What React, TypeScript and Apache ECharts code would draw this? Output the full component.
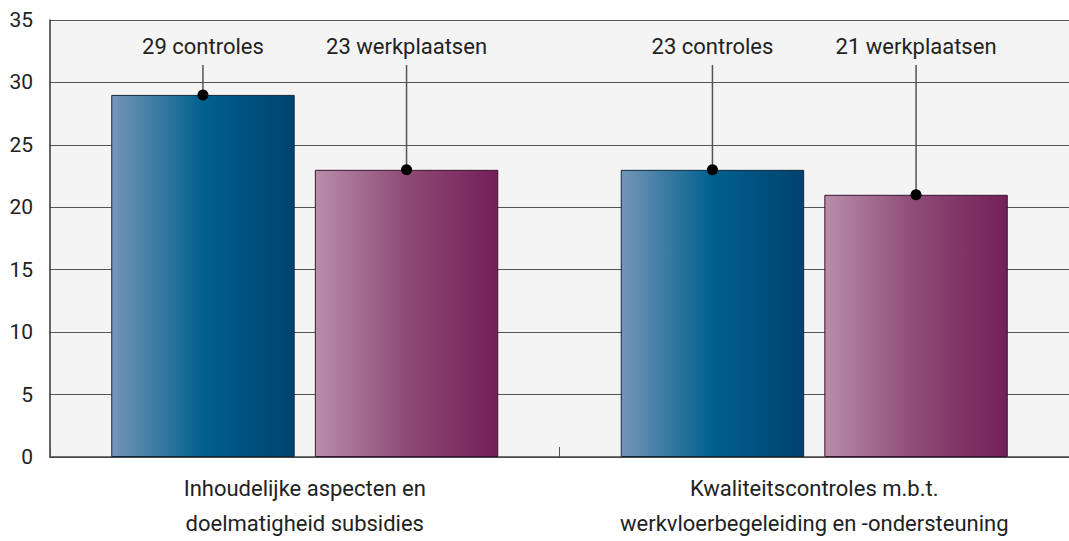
import React, { useEffect, useRef } from "react";
import * as echarts from "echarts";

const categories = [
  "Inhoudelijke aspecten en\ndoelmatigheid subsidies",
  "Kwaliteitscontroles m.b.t.\nwerkvloerbegeleiding en -ondersteuning",
];
const controles = [29, 23];
const werkplaatsen = [23, 21];
const seriesNames = ["controles", "werkplaatsen"];
const yTicks = { min: 0, max: 35, interval: 5 };

const FONT = "Roboto";

function makeCallout(values: number[], name: string, offset: number) {
  return {
    type: "custom",
    name: name + "-label",
    z: 10,
    data: values.map((v, i) => [i, v]),
    renderItem: (params: any, api: any) => {
      const cat = api.value(0);
      const v = api.value(1);
      const pt = api.coord([cat, v]);
      const bw = api.size([1, 0])[0];
      const x = pt[0] + offset * bw;
      const yTop = api.coord([cat, 31.4])[1];
      const yLab = api.coord([cat, 32.9])[1];
      return {
        type: "group",
        children: [
          {
            type: "line",
            shape: { x1: x, y1: yTop, x2: x, y2: pt[1] },
            style: { stroke: "#555", lineWidth: 1.5 },
          },
          {
            type: "circle",
            shape: { cx: x, cy: pt[1], r: 5.5 },
            style: { fill: "#000" },
          },
          {
            type: "text",
            x: x,
            y: yLab,
            style: {
              text: `${v} ${name}`,
              fill: "#222",
              font: `22px ${FONT}`,
              align: "center",
              verticalAlign: "middle",
            },
          },
        ],
      };
    },
  };
}

export default function App() {
  const ref = useRef<HTMLDivElement>(null);
  useEffect(() => {
    if (!ref.current) return;
    const chart = echarts.init(ref.current, null, { renderer: "svg" });
    const blue = new echarts.graphic.LinearGradient(0, 0, 1, 0, [
      { offset: 0, color: "#7595b8" },
      { offset: 0.5, color: "#00608e" },
      { offset: 1, color: "#00426f" },
    ]);
    const magenta = new echarts.graphic.LinearGradient(0, 0, 1, 0, [
      { offset: 0, color: "#b88ea9" },
      { offset: 0.5, color: "#8e4a76" },
      { offset: 1, color: "#731f58" },
    ]);
    const barOffset = (0.36 + 0.36 * 0.11) / 2;
    chart.setOption({
      animation: false,
      grid: {
        left: 50,
        top: 20,
        width: 1030,
        height: 445,
        show: true,
        backgroundColor: "#f4f4f4",
        borderWidth: 0,
      },
      xAxis: {
        type: "category",
        data: categories,
        axisLine: { show: true, lineStyle: { color: "#444", width: 1.5 } },
        axisTick: { show: true, inside: true, length: 10, lineStyle: { color: "#555" } },
        axisLabel: {
          color: "#222",
          fontFamily: FONT,
          fontSize: 22,
          lineHeight: 35,
          margin: 14,
        },
      },
      yAxis: {
        type: "value",
        min: yTicks.min,
        max: yTicks.max,
        interval: yTicks.interval,
        axisLine: { show: true, lineStyle: { color: "#333", width: 1.5 } },
        axisTick: { show: false },
        splitLine: { show: true, lineStyle: { color: "#555", width: 1 } },
        axisLabel: {
          color: "#222",
          fontFamily: FONT,
          fontSize: 21,
          margin: 17,
          padding: [10, 0, 0, 0],
        },
      },
      series: [
        {
          type: "bar",
          name: seriesNames[0],
          data: controles,
          barWidth: "36%",
          barGap: "11%",
          itemStyle: { color: blue, borderColor: "#0d2a40", borderWidth: 1 },
        },
        {
          type: "bar",
          name: seriesNames[1],
          data: werkplaatsen,
          barWidth: "36%",
          barGap: "11%",
          itemStyle: { color: magenta, borderColor: "#3a1530", borderWidth: 1 },
        },
        makeCallout(controles, seriesNames[0], -barOffset),
        makeCallout(werkplaatsen, seriesNames[1], barOffset),
      ],
    });
    return () => chart.dispose();
  }, []);
  return (
    <div
      ref={ref}
      style={{ position: "fixed", left: 0, top: 0, width: 1069, height: 541, background: "#fff" }}
    />
  );
}
